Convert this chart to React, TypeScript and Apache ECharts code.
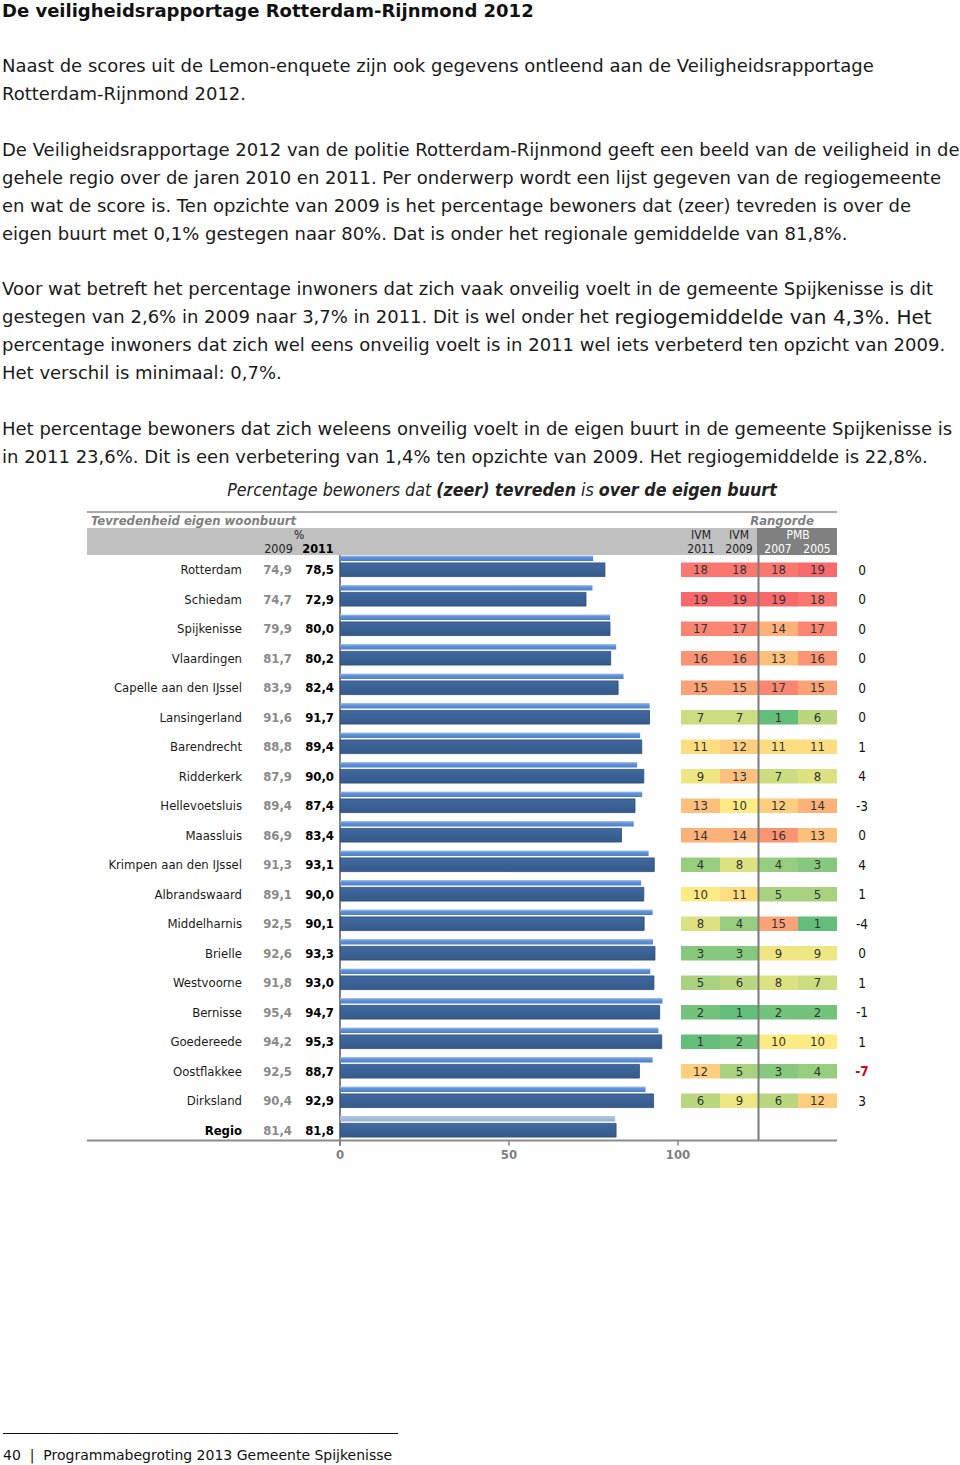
import React, { useEffect, useRef } from 'react';
import * as echarts from 'echarts';

// ---------- data ----------
const municipalities = [
  'Rotterdam', 'Schiedam', 'Spijkenisse', 'Vlaardingen', 'Capelle aan den IJssel',
  'Lansingerland', 'Barendrecht', 'Ridderkerk', 'Hellevoetsluis', 'Maassluis',
  'Krimpen aan den IJssel', 'Albrandswaard', 'Middelharnis', 'Brielle', 'Westvoorne',
  'Bernisse', 'Goedereede', 'Oostflakkee', 'Dirksland', 'Regio',
];
const pct2009 = [74.9, 74.7, 79.9, 81.7, 83.9, 91.6, 88.8, 87.9, 89.4, 86.9, 91.3, 89.1, 92.5, 92.6, 91.8, 95.4, 94.2, 92.5, 90.4, 81.4];
const pct2011 = [78.5, 72.9, 80.0, 80.2, 82.4, 91.7, 89.4, 90.0, 87.4, 83.4, 93.1, 90.0, 90.1, 93.3, 93.0, 94.7, 95.3, 88.7, 92.9, 81.8];

const rankColumns = ['IVM 2011', 'IVM 2009', 'PMB 2007', 'PMB 2005'];
const rankIvm2011 = [18, 19, 17, 16, 15, 7, 11, 9, 13, 14, 4, 10, 8, 3, 5, 2, 1, 12, 6];
const rankIvm2009 = [18, 19, 17, 16, 15, 7, 12, 13, 10, 14, 8, 11, 4, 3, 6, 1, 2, 5, 9];
const rankPmb2007 = [18, 19, 14, 13, 17, 1, 11, 7, 12, 16, 4, 5, 15, 9, 8, 2, 10, 3, 6];
const rankPmb2005 = [19, 18, 17, 16, 15, 6, 11, 8, 14, 13, 3, 5, 1, 9, 7, 2, 10, 4, 12];

const xTicks = [0, 50, 100];

const heading = 'De veiligheidsrapportage Rotterdam-Rijnmond 2012';
const bodyLines = [
  'Naast de scores uit de Lemon-enquete zijn ook gegevens ontleend aan de Veiligheidsrapportage',
  'Rotterdam-Rijnmond 2012.',
  'De Veiligheidsrapportage 2012 van de politie Rotterdam-Rijnmond geeft een beeld van de veiligheid in de',
  'gehele regio over de jaren 2010 en 2011. Per onderwerp wordt een lijst gegeven van de regiogemeente',
  'en wat de score is. Ten opzichte van 2009 is het percentage bewoners dat (zeer) tevreden is over de',
  'eigen buurt met 0,1% gestegen naar 80%. Dat is onder het regionale gemiddelde van 81,8%.',
  'Voor wat betreft het percentage inwoners dat zich vaak onveilig voelt in de gemeente Spijkenisse is dit',
  '{n|gestegen van 2,6% in 2009 naar 3,7% in 2011. Dit is wel onder het }{l|regiogemiddelde van 4,3%. Het}',
  'percentage inwoners dat zich wel eens onveilig voelt is in 2011 wel iets verbeterd ten opzicht van 2009.',
  'Het verschil is minimaal: 0,7%.',
  'Het percentage bewoners dat zich weleens onveilig voelt in de eigen buurt in de gemeente Spijkenisse is',
  'in 2011 23,6%. Dit is een verbetering van 1,4% ten opzichte van 2009. Het regiogemiddelde is 22,8%.',
];
const bodyLineY = [65.5, 93.5, 149.5, 177.5, 205.5, 233.5, 288.5, 316.5, 344.5, 372.5, 428.5, 456.5];
const footerText = '40  |  Programmabegroting 2013 Gemeente Spijkenisse';

// ---------- styling ----------
const FONT_BODY = '"DejaVu Sans", Verdana, sans-serif';
const FONT_CHART = '"DejaVu Sans Condensed", "DejaVu Sans", Tahoma, sans-serif';
const fmt = (v: number) => v.toFixed(1).replace('.', ',');

export default function App() {
  const ref = useRef<HTMLDivElement>(null);

  useEffect(() => {
    if (!ref.current) return;
    const chart = echarts.init(ref.current, undefined, { renderer: 'svg' });

    const rankData: any[] = [];
    const cols = [rankIvm2011, rankIvm2009, rankPmb2007, rankPmb2005];
    cols.forEach((col, ci) => {
      col.forEach((r, ri) => rankData.push([ci, ri, r]));
    });

    const lastIdx = municipalities.length - 1;

    const data2009 = pct2009.map((v, i) =>
      i === lastIdx
        ? {
            value: v,
            itemStyle: {
              color: new echarts.graphic.LinearGradient(0, 0, 0, 1, [
                { offset: 0, color: '#b4c8e2' },
                { offset: 1, color: '#93aed2' },
              ]),
            },
          }
        : v
    );

    const textEl = (text: string, x: number, y: number, extra: any = {}) => ({
      type: 'text',
      x,
      y,
      z: 100,
      style: {
        text,
        fontFamily: FONT_BODY,
        fontSize: 18,
        fill: '#1a1a1a',
        align: 'left',
        verticalAlign: 'middle',
        ...extra,
      },
    });

    const elements: any[] = [];
    elements.push(textEl(heading, 2, 10, { fontWeight: 'bold', fontSize: 18, fill: '#111' }));
    bodyLines.forEach((line, i) => {
      elements.push(
        textEl(line, 2, bodyLineY[i], {
          rich: {
            n: { fontFamily: FONT_BODY, fontSize: 18, fill: '#1a1a1a' },
            l: { fontFamily: FONT_BODY, fontSize: 20, fill: '#1a1a1a' },
          },
        })
      );
    });

    // chart title
    elements.push({
      type: 'text',
      x: 502,
      y: 490,
      z: 100,
      style: {
        text: '{i|Percentage bewoners dat }{b|(zeer) tevreden}{i| is }{b|over de eigen buurt}',
        align: 'center',
        verticalAlign: 'middle',
        rich: {
          i: { fontFamily: FONT_CHART, fontStyle: 'italic', fontSize: 17.7, fill: '#222' },
          b: { fontFamily: FONT_CHART, fontStyle: 'italic', fontWeight: 'bold', fontSize: 17.7, fill: '#222' },
        },
      },
    });

    // frame / header
    elements.push({ type: 'line', z: 90, shape: { x1: 87, y1: 512, x2: 837, y2: 512 }, style: { stroke: '#8c8c8c', lineWidth: 1.5 } });
    elements.push({ type: 'rect', z: 80, shape: { x: 87, y: 528, width: 750, height: 27 }, style: { fill: '#c0c0c0' } });
    elements.push({ type: 'rect', z: 81, shape: { x: 757, y: 528, width: 80, height: 27 }, style: { fill: '#808080' } });
    const hdr = (t: string, x: number, y: number, extra: any = {}) =>
      textEl(t, x, y, { fontFamily: FONT_CHART, fontSize: 12, fill: '#222', align: 'center', ...extra });
    elements.push(hdr('Tevredenheid eigen woonbuurt', 91, 520, { align: 'left', fontStyle: 'italic', fontWeight: 'bold', fill: '#7f7f7f', fontSize: 13 }));
    elements.push(hdr('Rangorde', 782, 520, { fontStyle: 'italic', fontWeight: 'bold', fill: '#7f7f7f', fontSize: 13 }));
    elements.push(hdr('%', 299, 535));
    elements.push(hdr('2009', 278.5, 548.5, { fontSize: 12.5 }));
    elements.push(hdr('2011', 318, 548.5, { fontWeight: 'bold', fill: '#000', fontSize: 12.5 }));
    elements.push(hdr('IVM', 701, 534.5));
    elements.push(hdr('2011', 701, 548.5));
    elements.push(hdr('IVM', 739, 534.5));
    elements.push(hdr('2009', 739, 548.5));
    elements.push(hdr('PMB', 798, 534.5, { fill: '#fff' }));
    elements.push(hdr('2007', 778, 548.5, { fill: '#fff' }));
    elements.push(hdr('2005', 817, 548.5, { fill: '#fff' }));

    // baseline and separator
    elements.push({ type: 'line', z: 90, shape: { x1: 87, y1: 1140.5, x2: 837, y2: 1140.5 }, style: { stroke: '#8c8c8c', lineWidth: 2 } });
    elements.push({ type: 'line', z: 90, shape: { x1: 758.5, y1: 555, x2: 758.5, y2: 1140 }, style: { stroke: '#7a7a7a', lineWidth: 2 } });

    // footer
    elements.push({ type: 'line', z: 90, shape: { x1: 3, y1: 1433.5, x2: 398, y2: 1433.5 }, style: { stroke: '#111', lineWidth: 1 } });
    elements.push(textEl(footerText, 3, 1455, { fontSize: 14, fill: '#111' }));

    const option: any = {
      animation: false,
      backgroundColor: '#ffffff',
      grid: [
        { left: 340, top: 555, width: 338, height: 590 },
        { left: 340, top: 543.5, width: 338, height: 590 },
        { left: 681, top: 555, width: 156, height: 590 },
      ],
      xAxis: [
        {
          gridIndex: 0,
          type: 'value',
          min: xTicks[0],
          max: xTicks[xTicks.length - 1],
          interval: xTicks[1] - xTicks[0],
          offset: -4.5,
          axisLine: { show: false },
          axisTick: { show: true, length: 5, lineStyle: { color: '#808080', width: 1.5 } },
          splitLine: { show: false },
          axisLabel: {
            margin: 7,
            color: '#808080',
            fontWeight: 'bold',
            fontSize: 13,
            fontFamily: FONT_CHART,
          },
        },
        { gridIndex: 1, type: 'value', min: xTicks[0], max: xTicks[xTicks.length - 1], show: false },
        { gridIndex: 2, type: 'category', data: rankColumns, show: false },
      ],
      yAxis: [
        {
          gridIndex: 0,
          type: 'category',
          data: municipalities,
          inverse: true,
          axisLine: { show: true, lineStyle: { color: '#808080', width: 2 } },
          axisTick: { show: false },
          axisLabel: {
            margin: 6,
            formatter: (value: string, index: number) => {
              const nameKey = index === lastIdx ? 'nb' : 'n';
              return `{${nameKey}|${value}}{a|${fmt(pct2009[index])}}{b|${fmt(pct2011[index])}}`;
            },
            rich: {
              n: { width: 160, align: 'right', color: '#1a1a1a', fontSize: 13, fontFamily: FONT_CHART },
              nb: { width: 160, align: 'right', color: '#000', fontSize: 13, fontWeight: 'bold', fontFamily: FONT_CHART },
              a: { width: 50, align: 'right', color: '#8a8a8a', fontSize: 13, fontWeight: 'bold', fontFamily: FONT_CHART },
              b: { width: 42, align: 'right', color: '#000', fontSize: 13, fontWeight: 'bold', fontFamily: FONT_CHART },
            },
          },
        },
        { gridIndex: 1, type: 'category', data: municipalities, inverse: true, show: false },
        {
          gridIndex: 2,
          type: 'category',
          data: municipalities,
          inverse: true,
          position: 'right',
          axisLine: { show: false },
          axisTick: { show: false },
          axisLabel: {
            margin: 15,
            formatter: (_v: string, index: number) => {
              if (index >= rankIvm2011.length) return '';
              const d = rankIvm2009[index] - rankIvm2011[index];
              return d <= -5 ? `{r|${d}}` : `{d|${d}}`;
            },
            rich: {
              d: { width: 20, align: 'center', color: '#111', fontSize: 13.5, fontFamily: FONT_CHART },
              r: { width: 20, align: 'center', color: '#d0021b', fontSize: 13.5, fontWeight: 'bold', fontFamily: FONT_CHART },
            },
          },
        },
      ],
      visualMap: {
        show: false,
        type: 'continuous',
        min: 1,
        max: 19,
        dimension: 2,
        seriesIndex: 2,
        inRange: { color: ['#63be7b', '#ffeb84', '#f8696b'] },
      },
      series: [
        {
          name: '2011',
          type: 'bar',
          xAxisIndex: 0,
          yAxisIndex: 0,
          data: pct2011,
          barWidth: 14.5,
          z: 3,
          itemStyle: {
            color: new echarts.graphic.LinearGradient(0, 0, 0, 1, [
              { offset: 0, color: '#4169a0' },
              { offset: 1, color: '#355a8b' },
            ]),
            borderColor: '#2b4b76',
            borderWidth: 0.8,
          },
        },
        {
          name: '2009',
          type: 'bar',
          xAxisIndex: 1,
          yAxisIndex: 1,
          data: data2009,
          barWidth: 5.5,
          z: 2,
          itemStyle: {
            color: new echarts.graphic.LinearGradient(0, 0, 0, 1, [
              { offset: 0, color: '#a9c6ec' },
              { offset: 0.35, color: '#6394da' },
              { offset: 1, color: '#4d7fc6' },
            ]),
          },
        },
        {
          name: 'Rangorde',
          type: 'scatter',
          xAxisIndex: 2,
          yAxisIndex: 2,
          symbol: 'rect',
          symbolSize: [39, 14.5],
          data: rankData,
          itemStyle: { opacity: 1 },
          label: {
            show: true,
            position: 'inside',
            formatter: (p: any) => String(p.value[2]),
            color: '#333',
            fontSize: 13,
            fontFamily: FONT_CHART,
          },
        },
      ],
      graphic: { elements },
    };

    chart.setOption(option);
    return () => chart.dispose();
  }, []);

  return (
    <div
      ref={ref}
      style={{ position: 'absolute', left: 0, top: 0, width: 960, height: 1465, background: '#fff' }}
    />
  );
}
